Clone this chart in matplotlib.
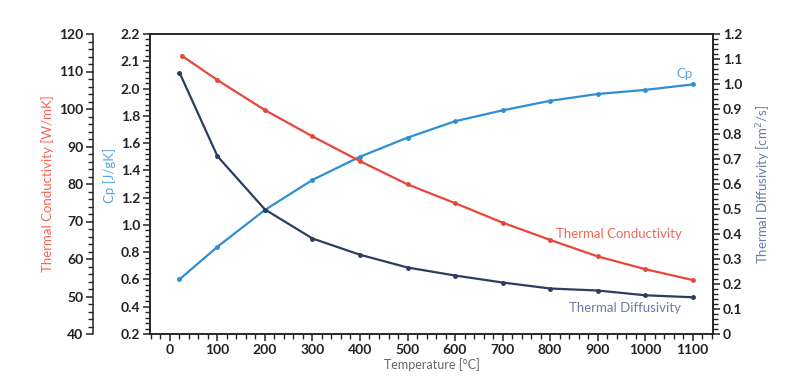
import matplotlib
matplotlib.use("Agg")
import matplotlib.pyplot as plt

# values
temp_tc = [25, 100, 200, 300, 400, 500, 600, 700, 800, 900, 1000, 1100]
thermal_conductivity = [114.2, 107.7, 99.7, 92.7, 86.1, 79.9, 74.9, 69.7, 65.1, 60.7, 57.3, 54.4]

temp = [20, 100, 200, 300, 400, 500, 600, 700, 800, 900, 1000, 1100]
cp = [0.60, 0.84, 1.11, 1.33, 1.50, 1.64, 1.76, 1.84, 1.91, 1.96, 1.99, 2.03]
thermal_diffusivity = [1.046, 0.711, 0.498, 0.382, 0.317, 0.266, 0.234, 0.206, 0.182, 0.174, 0.155, 0.147]

temp_ticks = list(range(0, 1101, 100))
cp_ticks = [0.2, 0.4, 0.6, 0.8, 1.0, 1.2, 1.4, 1.6, 1.8, 2.0, 2.2, 2.4]
cp_tick_labels = ["0.2", "0.4", "0.6", "0.8", "1.0", "1.2", "1.4", "1.6", "1.8", "2.0", "2.1", "2.2"]
tc_ticks = [40, 50, 60, 70, 80, 90, 100, 110, 120]
td_ticks = [0, 0.1, 0.2, 0.3, 0.4, 0.5, 0.6, 0.7, 0.8, 0.9, 1.0, 1.1, 1.2]
td_tick_labels = ["0", "0.1", "0.2", "0.3", "0.4", "0.5", "0.6", "0.7", "0.8", "0.9", "1.0", "1.1", "1.2"]

RED = "#e8463a"
BLUE = "#2e8fd4"
NAVY = "#2c3e5f"
RED_TXT = "#f0675a"
BLUE_TXT = "#5aa6dd"
NAVY_TXT = "#6a7da0"
INK = "#222222"

plt.rcParams["font.family"] = ["Lato", "DejaVu Sans"]
plt.rcParams["xtick.minor.visible"] = True
plt.rcParams["ytick.minor.visible"] = True

fig = plt.figure(figsize=(8.03, 3.91), dpi=100)
ax = fig.add_axes([150 / 803, 1 - 334 / 391, 563 / 803, 300 / 391])
ax_tc = ax.twinx()
ax_td = ax.twinx()

# Cp on the inner left axis
ax.plot(temp, cp, color=BLUE, lw=1.6, marker="o", ms=2.5, zorder=3)
ax.set_yticks(cp_ticks)
ax.set_yticklabels(cp_tick_labels)
ax.set_yticks([round(0.2 + 0.04 * i, 3) for i in range(56)], minor=True)
ax.set_xticks(temp_ticks)
ax.set_xticks([-40 + 20 * i for i in range(60)], minor=True)
ax.set_xlim(-42, 1143)
ax.set_ylim(0.2, 2.4)
ax.set_ylabel("Cp [J/gK]", color=BLUE_TXT, fontsize=9.5)
ax.yaxis.set_label_coords(-0.061, 0.53)
ax.set_xlabel("Temperature [°C]", color="#666666", fontsize=9, labelpad=2)

# thermal conductivity on the outer left axis, 57 px left of the frame
ax_tc.plot(temp_tc, thermal_conductivity, color=RED, lw=1.6, marker="o", ms=2.5, zorder=3)
ax_tc.yaxis.set_ticks_position("left")
ax_tc.yaxis.set_label_position("left")
ax_tc.spines["left"].set_visible(True)
ax_tc.spines["left"].set_position(("outward", 57 * 72 / 100))
ax_tc.spines["right"].set_visible(False)
ax_tc.spines["top"].set_visible(False)
ax_tc.spines["bottom"].set_visible(False)
ax_tc.set_yticks(tc_ticks)
ax_tc.set_yticks(list(range(40, 121, 2)), minor=True)
ax_tc.set_ylim(40, 120)
ax_tc.set_ylabel("Thermal Conductivity [W/mK]", color=RED_TXT, fontsize=9.5)
ax_tc.yaxis.set_label_coords(-0.171, 0.5)

# thermal diffusivity on the right axis
ax_td.plot(temp, thermal_diffusivity, color=NAVY, lw=1.6, marker="o", ms=2.5, zorder=3)
ax_td.set_yticks(td_ticks)
ax_td.set_yticklabels(td_tick_labels)
ax_td.set_yticks([round(0.02 * i, 3) for i in range(61)], minor=True)
ax_td.set_ylim(0, 1.2)
ax_td.set_ylabel("Thermal Diffusivity [cm$^2$/s]", color=NAVY_TXT, fontsize=9.5)
ax_td.yaxis.set_label_coords(1.074, 0.5)

for a in (ax, ax_tc, ax_td):
    a.tick_params(which="major", direction="out", length=5, width=1.1,
                  labelsize=10, pad=2, color=INK)
    a.tick_params(which="minor", direction="out", length=3.5, width=1.0, color=INK)
    for lab in a.get_yticklabels() + a.get_xticklabels():
        lab.set_fontweight("bold")
        lab.set_color(INK)
    for s in a.spines.values():
        s.set_linewidth(1.1)
        s.set_color(INK)

# inline series labels
ax.text(1100, 2.06, "Cp", color=BLUE_TXT, fontsize=9.5, ha="right", va="bottom")
ax_tc.text(1077, 66.8, "Thermal Conductivity", color=RED_TXT, fontsize=9.5, ha="right", va="center")
ax_td.text(1075, 0.105, "Thermal Diffusivity", color=NAVY_TXT, fontsize=9.5, ha="right", va="center")

fig.savefig("out.png", dpi=100)
